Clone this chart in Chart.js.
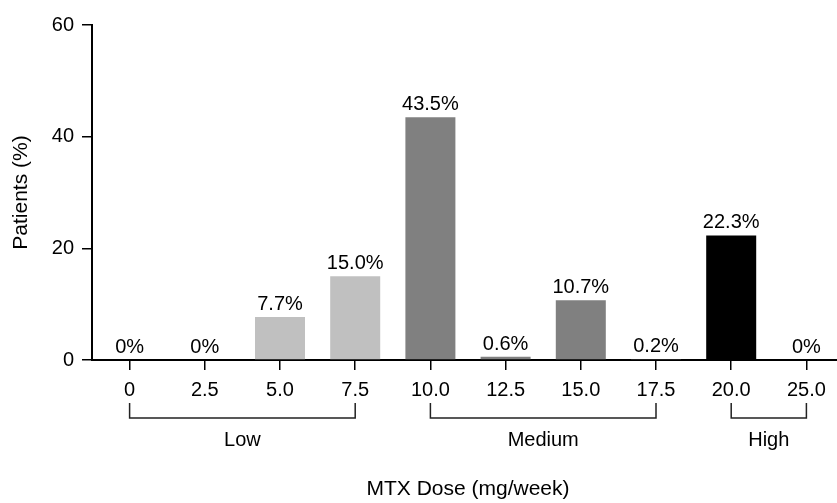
<!DOCTYPE html>
<html>
<head>
<meta charset="utf-8">
<script src="https://cdn.jsdelivr.net/npm/chart.js@4.4.1/dist/chart.umd.min.js"></script>
<style>
  html, body { margin: 0; padding: 0; background: #fff; overflow: hidden; }
  #wrap { width: 844px; height: 503px; }
</style>
</head>
<body>
<div id="wrap"><canvas id="doseChart"></canvas></div>
<script>
// MTX dose distribution
const doseLabels = ['0', '2.5', '5.0', '7.5', '10.0', '12.5', '15.0', '17.5', '20.0', '25.0'];
const patientPct = [0, 0, 7.7, 15.0, 43.5, 0.6, 10.7, 0.2, 22.3, 0];
const pctLabels = ['0%', '0%', '7.7%', '15.0%', '43.5%', '0.6%', '10.7%', '0.2%', '22.3%', '0%'];
const groupNames = ['Low', 'Medium', 'High'];
const groupStart = [0, 4, 8];
const groupEnd = [3, 7, 9];
const yTicks = [0, 20, 40, 60];

const groupColors = ['#c0c0c0', '#808080', '#000000'];
const FONT = "'Liberation Sans', Arial, sans-serif";

function colorForBar(i) {
    for (let g = 0; g < groupStart.length; g++) {
        if (i >= groupStart[g] && i <= groupEnd[g]) return groupColors[g];
    }
    return '#808080';
}

const valueLabelPlugin = {
    id: 'valueLabels',
    afterDatasetsDraw(chart) {
        const ctx = chart.ctx;
        const meta = chart.getDatasetMeta(0);
        ctx.save();
        ctx.font = '20px ' + FONT;
        ctx.fillStyle = '#000';
        ctx.textAlign = 'center';
        ctx.textBaseline = 'alphabetic';
        meta.data.forEach((bar, i) => {
            ctx.fillText(pctLabels[i], bar.x, bar.y - 7);
        });
        ctx.restore();
    }
};

const bracketPlugin = {
    id: 'doseBrackets',
    afterDraw(chart) {
        const ctx = chart.ctx;
        const xs = chart.scales.x;
        const base = chart.chartArea.bottom;
        ctx.save();
        ctx.strokeStyle = '#222';
        ctx.lineWidth = 1.5;
        ctx.font = '20px ' + FONT;
        ctx.fillStyle = '#000';
        ctx.textAlign = 'center';
        ctx.textBaseline = 'middle';
        groupNames.forEach((name, g) => {
            const x0 = xs.getPixelForValue(groupStart[g]);
            const x1 = xs.getPixelForValue(groupEnd[g]);
            ctx.beginPath();
            ctx.moveTo(x0, base + 43);
            ctx.lineTo(x0, base + 58);
            ctx.lineTo(x1, base + 58);
            ctx.lineTo(x1, base + 43);
            ctx.stroke();
            ctx.fillText(name, (x0 + x1) / 2, base + 80);
        });
        ctx.restore();
    }
};

new Chart(document.getElementById('doseChart'), {
    type: 'bar',
    data: {
        labels: doseLabels,
        datasets: [{
            data: patientPct,
            backgroundColor: patientPct.map((v, i) => colorForBar(i)),
            borderWidth: 0,
            barPercentage: 0.665,
            categoryPercentage: 1.0
        }]
    },
    options: {
        responsive: true,
        maintainAspectRatio: false,
        animation: false,
        layout: { padding: { top: 25, right: 0, left: 0, bottom: 0 } },
        plugins: {
            legend: { display: false },
            tooltip: { enabled: false }
        },
        scales: {
            x: {
                offset: true,
                grid: { offset: false, drawOnChartArea: false, color: '#000', lineWidth: 1.5, tickLength: 10 },
                border: { color: '#000', width: 2 },
                ticks: { color: '#000', font: { family: FONT, size: 20 }, padding: 8, maxRotation: 0 },
                title: {
                    display: true,
                    text: 'MTX Dose (mg/week)',
                    color: '#000',
                    font: { family: FONT, size: 21 },
                    padding: { top: 0, bottom: 1 }
                },
                afterFit(scale) { scale.height = 143; }
            },
            y: {
                min: 0,
                max: 60,
                afterBuildTicks(scale) { scale.ticks = yTicks.map(v => ({ value: v })); },
                grid: { drawOnChartArea: false, color: '#000', lineWidth: 1.5, tickLength: 10 },
                border: { color: '#000', width: 2 },
                ticks: { color: '#000', font: { family: FONT, size: 20 }, padding: 8 },
                title: {
                    display: true,
                    text: 'Patients (%)',
                    color: '#000',
                    font: { family: FONT, size: 21 },
                    padding: { top: 9, bottom: 0 }
                },
                afterFit(scale) { scale.width = 92; }
            }
        }
    },
    plugins: [valueLabelPlugin, bracketPlugin]
});
</script>
</body>
</html>
